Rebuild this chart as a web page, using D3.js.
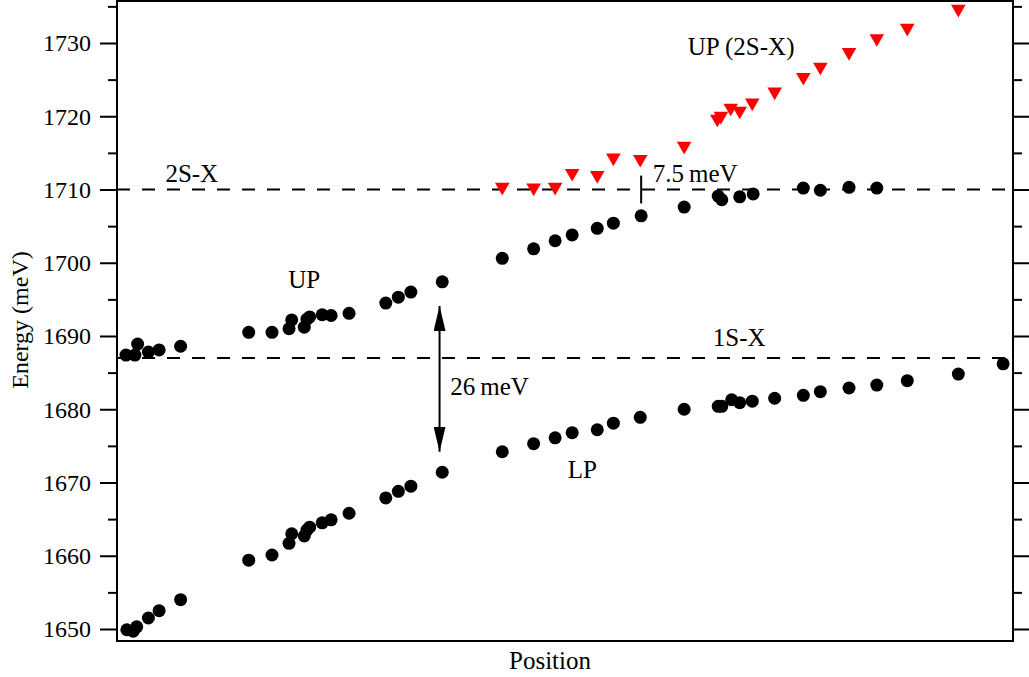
<!DOCTYPE html>
<html>
<head>
<meta charset="utf-8">
<script src="https://cdn.jsdelivr.net/npm/d3@7"></script>
<style>
  body { margin: 0; background: #fff; }
  text { font-family: "Liberation Serif", "Times New Roman", serif; fill: #000; }
</style>
</head>
<body>
<script>
// lower polariton (LP)
const lpPos = [1.1, 1.8, 2.2, 3.5, 4.7, 7.1, 14.7, 17.3, 19.2, 19.5, 20.9, 21.2, 21.5, 22.9, 23.9, 25.9,
  30.0, 31.4, 32.8, 36.3, 43.0, 46.5, 48.9, 50.8, 53.6, 55.4, 58.4, 63.3, 67.1, 67.5, 68.6, 69.5, 70.9,
  73.4, 76.6, 78.5, 81.7, 84.8, 88.2, 93.9, 98.9]
const lpE = [1649.9, 1649.7, 1650.3, 1651.5, 1652.5, 1654.0, 1659.4, 1660.1, 1661.7, 1663.0, 1662.7, 1663.5,
  1663.9, 1664.5, 1664.9, 1665.8, 1667.9, 1668.8, 1669.5, 1671.4, 1674.2, 1675.3, 1676.1, 1676.8, 1677.2,
  1678.1, 1678.9, 1680.0, 1680.4, 1680.4, 1681.3, 1680.9, 1681.1, 1681.5, 1681.9, 1682.4, 1682.9, 1683.3,
  1683.9, 1684.8, 1686.2]

// upper polariton (UP)
const upPos = [1.0, 2.0, 2.3, 3.5, 4.7, 7.1, 14.7, 17.3, 19.2, 19.5, 20.9, 21.2, 21.5, 22.9, 23.9, 25.9,
  30.0, 31.4, 32.8, 36.3, 43.0, 46.5, 48.9, 50.8, 53.6, 55.4, 58.5, 63.3, 67.1, 67.5, 69.5, 71.0,
  76.6, 78.5, 81.7, 84.8]
const upE = [1687.4, 1687.4, 1688.9, 1687.8, 1688.1, 1688.6, 1690.5, 1690.5, 1691.0, 1692.2, 1691.2, 1692.3,
  1692.6, 1692.9, 1692.8, 1693.1, 1694.5, 1695.3, 1696.0, 1697.4, 1700.6, 1701.9, 1703.0, 1703.8, 1704.7,
  1705.4, 1706.4, 1707.6, 1709.1, 1708.6, 1709.0, 1709.4, 1710.2, 1709.9, 1710.3, 1710.2]

// upper polariton of the 2S exciton
const up2Pos = [43.0, 46.5, 48.9, 50.8, 53.6, 55.4, 58.4, 63.3, 67.0, 67.4, 68.5, 69.5, 70.9, 73.4, 76.6,
  78.5, 81.7, 84.8, 88.2, 93.9]
const up2E = [1710.2, 1710.1, 1710.2, 1712.1, 1711.8, 1714.2, 1714.0, 1715.8, 1719.5, 1719.9, 1721.0, 1720.6,
  1721.7, 1723.2, 1725.2, 1726.6, 1728.6, 1730.5, 1731.9, 1734.5]

// exciton levels
const levelNames = ["2S-X", "1S-X"]
const levelE = [1710, 1687]

const yTicks = [1650, 1660, 1670, 1680, 1690, 1700, 1710, 1720, 1730]
const yMinor = [1655, 1665, 1675, 1685, 1695, 1705, 1715, 1725, 1735]

// text labels: [text, position, energy]
const labels = [
  ["2S-X", 5.4, 1711.0],
  ["1S-X", 66.5, 1688.6],
  ["UP", 19.1, 1696.5],
  ["LP", 50.3, 1670.6],
  ["UP (2S-X)", 63.7, 1728.4],
  ["7.5\u2009meV", 59.8, 1711.0],
  ["26\u2009meV", 37.2, 1681.9]
]
const splitArrow = {pos: 36.0, from: 1694.1, to: 1674.2}
const gapMark = {pos: 58.5, from: 1708.1, to: 1711.9}

const width = 1029
const height = 677
const plotL = 117, plotR = 1013, plotT = 1, plotB = 641

const x = d3.scaleLinear().domain([0, 100]).range([plotL, plotR])
const y = d3.scaleLinear().domain([1650, 1730]).range([629, 43])

const svg = d3.select("body").append("svg")
  .attr("width", width)
  .attr("height", height)

svg.append("defs").append("marker")
  .attr("id", "head")
  .attr("viewBox", "0 0 25 12")
  .attr("refX", 25).attr("refY", 6)
  .attr("markerWidth", 25).attr("markerHeight", 12)
  .attr("markerUnits", "userSpaceOnUse")
  .attr("orient", "auto-start-reverse")
  .append("path")
  .attr("d", "M0,0 L25,6 L0,12 Z")
  .attr("fill", "#000")

// axes
const minorVis = yMinor.filter(v => y(v) > plotT)
const axL = svg.append("g").attr("transform", `translate(${plotL},0)`)
  .call(d3.axisLeft(y).tickValues(yTicks).tickSize(17).tickPadding(9).tickFormat(d3.format("d")))
const axLm = svg.append("g").attr("transform", `translate(${plotL},0)`)
  .call(d3.axisLeft(y).tickValues(minorVis).tickSize(9).tickFormat(""))
const axR = svg.append("g").attr("transform", `translate(${plotR},0)`)
  .call(d3.axisRight(y).tickValues(yTicks).tickSize(17).tickFormat(""))
const axRm = svg.append("g").attr("transform", `translate(${plotR},0)`)
  .call(d3.axisRight(y).tickValues(minorVis).tickSize(9).tickFormat(""))

;[axL, axLm, axR, axRm].forEach(g => {
  g.select(".domain").remove()
  g.selectAll("line").attr("stroke", "#000").attr("stroke-width", 2)
})
axL.selectAll("text")
  .attr("font-family", "Liberation Serif")
  .attr("font-size", 24)
  .attr("dy", "0.33em")

// exciton levels
svg.append("g").selectAll("line")
  .data(levelE)
  .join("line")
  .attr("x1", plotL).attr("x2", plotR)
  .attr("y1", d => y(d)).attr("y2", d => y(d))
  .attr("stroke", "#000")
  .attr("stroke-width", 2)
  .attr("stroke-dasharray", "13,12")

// frame
svg.append("rect")
  .attr("x", plotL).attr("y", plotT)
  .attr("width", plotR - plotL).attr("height", plotB - plotT)
  .attr("fill", "none")
  .attr("stroke", "#000")
  .attr("stroke-width", 2)

// points
const pts = (pos, e) => pos.map((p, i) => ({p, e: e[i]}))

svg.append("g").selectAll("circle")
  .data(pts(lpPos, lpE).concat(pts(upPos, upE)))
  .join("circle")
  .attr("cx", d => x(d.p))
  .attr("cy", d => y(d.e))
  .attr("r", 6.5)
  .attr("fill", "#000")

const tri = d3.symbol(d3.symbolTriangle, 92)
svg.append("g").selectAll("path")
  .data(pts(up2Pos, up2E))
  .join("path")
  .attr("d", tri)
  .attr("transform", d => `translate(${x(d.p)},${y(d.e) - 1}) rotate(180)`)
  .attr("fill", "#ff0000")

// 26 meV splitting arrow
svg.append("line")
  .attr("x1", x(splitArrow.pos)).attr("x2", x(splitArrow.pos))
  .attr("y1", y(splitArrow.to)).attr("y2", y(splitArrow.from))
  .attr("stroke", "#000")
  .attr("stroke-width", 2)
  .attr("marker-start", "url(#head)")
  .attr("marker-end", "url(#head)")

// 7.5 meV mark
svg.append("line")
  .attr("x1", x(gapMark.pos)).attr("x2", x(gapMark.pos))
  .attr("y1", y(gapMark.from)).attr("y2", y(gapMark.to))
  .attr("stroke", "#000")
  .attr("stroke-width", 2)

svg.append("g").selectAll("text")
  .data(labels)
  .join("text")
  .attr("x", d => x(d[1]))
  .attr("y", d => y(d[2]))
  .attr("font-size", 25)
  .text(d => d[0])

svg.append("text")
  .attr("x", 550)
  .attr("y", 669)
  .attr("text-anchor", "middle")
  .attr("font-size", 25)
  .text("Position")

svg.append("text")
  .attr("transform", "translate(28,320) rotate(-90)")
  .attr("text-anchor", "middle")
  .attr("font-size", 24)
  .text("Energy (meV)")
</script>
</body>
</html>
